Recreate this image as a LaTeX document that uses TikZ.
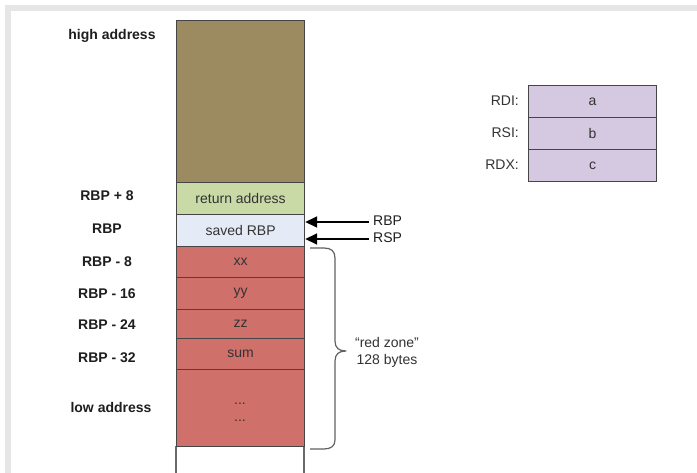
\documentclass[tikz,border=0pt]{standalone}
\usepackage{fontspec}
\setmainfont{Liberation Sans}
\usetikzlibrary{arrows.meta}

\definecolor{framegray}{HTML}{E6E6E6}
\definecolor{edgegray}{HTML}{454545}
\definecolor{brown}{HTML}{9C8B60}
\definecolor{retgreen}{HTML}{C9DAA7}
\definecolor{rbpblue}{HTML}{E5EBF6}
\definecolor{zonered}{HTML}{CF706A}
\definecolor{regpurple}{HTML}{D4C9E0}
\definecolor{celltext}{HTML}{333333}
\definecolor{labeltext}{HTML}{1E1E1E}

\tikzset{
  cell/.style={draw=edgegray, line width=1.2pt, anchor=north west,
    minimum width=128pt, inner sep=0pt, text=celltext,
    font=\fontsize{14}{17}\selectfont},
  addr/.style={text=labeltext, font=\fontsize{14}{17}\selectfont\bfseries},
  reglabel/.style={text=celltext, anchor=east, inner sep=0pt,
    font=\fontsize{14}{17}\selectfont},
  ptrlabel/.style={text=labeltext, anchor=west, inner sep=0pt,
    font=\fontsize{14}{17}\selectfont},
  ptr/.style={line width=1.6pt, draw=black,
    -{Triangle[length=12pt,width=11pt]}},
  brace/.style={draw=edgegray!85, line width=1.2pt, line join=round},
}

\begin{document}
\begin{tikzpicture}[x=1pt,y=-1pt]
\useasboundingbox (0,0) rectangle (697,473);
\fill[white] (0,0) rectangle (697,473);
% outer frame bands
\fill[framegray] (5,5) rectangle (697,11);
\fill[framegray] (5,5) rectangle (11,473);

% open bottom of the stack column
\draw[edgegray!80, line width=1.2pt] (176,446) -- (176,474);
\draw[edgegray!80, line width=1.2pt] (304,446) -- (304,474);

% stack cells
\node[cell, fill=brown,    minimum height=162pt] (high)  at (176,20)  {};
\node[cell, fill=retgreen, minimum height=32pt]  (ret)   at (176,182) {return address};
\node[cell, fill=rbpblue,  minimum height=32pt]  (saved) at (176,214) {saved RBP};
\node[cell, fill=zonered,  minimum height=31pt]  (xx)    at (176,246) {xx};
\node[cell, fill=zonered,  minimum height=32pt]  (yy)    at (176,277) {yy};
\node[cell, fill=zonered,  minimum height=29pt]  (zz)    at (176,309) {zz};
\node[cell, fill=zonered,  minimum height=31pt]  (sum)   at (176,338) {sum};
\node[cell, fill=zonered,  minimum height=77pt]  (rest)  at (176,369) {};
\node[text=celltext, font=\fontsize{14}{17}\selectfont, align=center] (dots) at (240,412) {...\\...};

% address labels
\node[addr] (lhigh) at (112,36)  {high address};
\node[addr] (l8)    at (107,196) {RBP + 8};
\node[addr] (l0)    at (107,229) {RBP};
\node[addr] (lm8)   at (107,262) {RBP - 8};
\node[addr] (lm16)  at (107,294) {RBP - 16};
\node[addr] (lm24)  at (107,325) {RBP - 24};
\node[addr] (lm32)  at (107,358) {RBP - 32};
\node[addr] (llow)  at (111,407) {low address};

% register pointers
\node[ptrlabel] (rbpl) at (373,221) {RBP};
\node[ptrlabel] (rspl) at (373,238) {RSP};
\draw[ptr] (rbpl.west) ++(-4,1) coordinate (rbptail) (rbptail) -- (saved.east |- rbptail);
\draw[ptr] (rspl.west) ++(-4,1) coordinate (rsptail) (rsptail) -- (saved.east |- rsptail);

% red zone brace
\coordinate (btop) at (310,248);
\coordinate (bbot) at (310,449);
\draw[brace] (btop) -- (324,248) .. controls (331,248) and (335,251) .. (335,258)
  -- (335,341) .. controls (335,348) and (339,351) .. (346,351)
  .. controls (339,351) and (335,354) .. (335,361)
  -- (335,440) .. controls (335,446) and (331,449) .. (324,449) -- (bbot);
\node[text=celltext, font=\fontsize{14}{17}\selectfont, align=center] (zone) at (387,352) {``red zone''\\128 bytes};

% argument registers
\node[cell, fill=regpurple, minimum height=32pt] (rdi) at (528,85)  {a};
\node[cell, fill=regpurple, minimum height=32pt] (rsi) at (528,117) {b};
\node[cell, fill=regpurple, minimum height=32pt] (rdx) at (528,149) {c};
\node[reglabel] (lrdi) at (519,101) {RDI:};
\node[reglabel] (lrsi) at (519,133) {RSI:};
\node[reglabel] (lrdx) at (519,165) {RDX:};
\end{tikzpicture}
\end{document}
